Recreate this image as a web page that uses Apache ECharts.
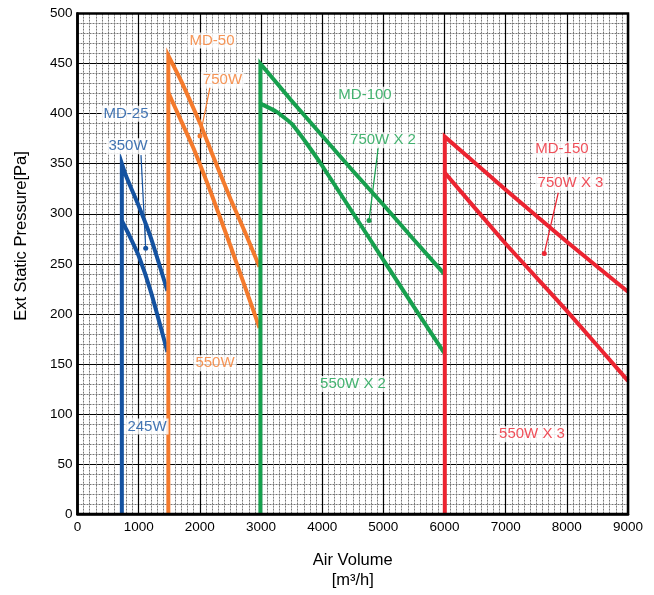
<!DOCTYPE html>
<html>
<head>
<meta charset="utf-8">
<script src="https://cdn.jsdelivr.net/npm/echarts@6/dist/echarts.min.js"></script>
<style>
html,body{margin:0;padding:0;background:#fff;}
#chart{width:654px;height:595px;}
</style>
</head>
<body>
<div id="chart"></div>
<script>
// ---- data ----
const xTicks = [0,1000,2000,3000,4000,5000,6000,7000,8000,9000];
const yTicks = [0,50,100,150,200,250,300,350,400,450,500];

const md25Upper = [[725,350],[780,340],[860,328],[1000,308],[1200,276],[1470,223]];
const md25Lower = [[725,293],[850,278],[1000,258],[1200,222],[1470,162]];
const md50Upper = [[1485,458],[1700,432],[2000,391],[2200,360],[2500,315],[2750,280],[2975,247]];
const md50Lower = [[1485,421],[1700,392],[1900,365],[2200,318],[2500,268],[2750,225],[2975,186]];
const md100Upper = [[2990,450],[3500,413],[4000,378],[4500,343],[5000,309],[5500,274],[5995,240]];
const md100Lower = [[2990,410],[3250,402],[3500,390],[3750,370],[4000,348],[4500,301],[5000,254],[5500,207],[5995,161]];
const md150Upper = [[6005,377],[7000,324],[8000,272],[9000,222]];
const md150Lower = [[6005,341],[7000,270],[8000,203],[9000,133]];

const labelTexts = ['MD-25','350W','245W','MD-50','750W','550W','MD-100','750W X 2','550W X 2','MD-150','750W X 3','550W X 3'];
const labelX =     [793, 826, 1136, 2199, 2370, 2248, 4700, 4994, 4504, 7920, 8060, 7430];
const labelY =     [400, 367.5, 87.5, 473, 434, 150.6, 419, 373.5, 130, 364.5, 331, 79.6];
const labelGroup = [0,0,0,1,1,1,2,2,2,3,3,3];

// leader lines: from point and dot point
const leaderStart = [[1038,358.6],[2166,426.3],[4918,367],[7860,321]];
const leaderEnd =   [[1115,265.5],[2003,377.6],[4766,293.2],[7631,260.3]];
const leaderGroup = [0,1,2,3];

const colors = ['#1452a0','#f47a2c','#17a04e','#ec2431'];
const curves = [[md25Upper,md25Lower],[md50Upper,md50Lower],[md100Upper,md100Lower],[md150Upper,md150Lower]];

// ---- chart ----
const chart = echarts.init(document.getElementById('chart'), null, {renderer:'canvas'});
const FONT = 'Liberation Sans, Arial, Helvetica, sans-serif';
const series = [];

curves.forEach((pair, i) => {
  const up = pair[0];
  const vert = [[up[0][0], 0], [up[0][0], up[0][1]]].concat(up.slice(1));
  series.push({
    type:'line', data: vert, showSymbol:false, smooth:0.15, z:5,
    lineStyle:{color:colors[i], width:4, join:'miter', cap:'butt'}, silent:true, animation:false
  });
  series.push({
    type:'line', data: pair[1], showSymbol:false, smooth:0.15, z:5,
    lineStyle:{color:colors[i], width:4, cap:'butt'}, silent:true, animation:false
  });
});

leaderStart.forEach((s, i) => {
  const c = colors[leaderGroup[i]];
  series.push({
    type:'line', z:6, animation:false, silent:true,
    data:[{value:s, symbol:'none'}, {value:leaderEnd[i], symbol:'circle', symbolSize:5}],
    showSymbol:true, showAllSymbol:true,
    itemStyle:{color:c}, lineStyle:{color:c, width:1.2}
  });
});

series.push({
  type:'scatter', z:10, animation:false, silent:true, symbolSize:0,
  data: labelTexts.map((t,i)=>({
    value:[labelX[i], labelY[i]],
    label:{show:true, position:'inside', formatter:t, color:colors[labelGroup[i]],
      fontSize:15, fontFamily:FONT, backgroundColor:'#fff', padding:[1,2,0,2]}
  }))
});

chart.setOption({
  animation:false,
  backgroundColor:'#fff',
  grid:{left:77.5, right:26, top:13.6, bottom:74.3, show:true, borderColor:'#000', borderWidth:2.5, z:20},
  graphic:[{
    type:'text', x:21, y:236, rotation:Math.PI/2, z:30,
    style:{text:'Ext Static Pressure[Pa]', fill:'#000', fontSize:16.5, fontFamily:FONT,
      textAlign:'center', textVerticalAlign:'middle'}
  }],
  xAxis:{
    type:'value', min:0, max:9000, interval:1000,
    name:'Air Volume\n[m³/h]', nameLocation:'middle', nameGap:36,
    nameTextStyle:{color:'#000', fontSize:16.5, fontFamily:FONT, lineHeight:20},
    axisLine:{show:true, lineStyle:{color:'#000', width:2.5}},
    axisTick:{show:false},
    axisLabel:{color:'#000', fontSize:13.5, fontFamily:FONT, margin:6,
      formatter:(v)=> xTicks.includes(v) ? String(v) : ''},
    splitLine:{show:true, lineStyle:{color:'#000', width:1.2}},
    minorTick:{show:false, splitNumber:10},
    minorSplitLine:{show:true, lineStyle:{color:'#777', width:1, type:[2,1]}}
  },
  yAxis:{
    type:'value', min:0, max:500, interval:50,
    axisLine:{show:true, lineStyle:{color:'#000', width:2.5}},
    axisTick:{show:false},
    axisLabel:{color:'#000', fontSize:13.5, fontFamily:FONT, margin:5,
      formatter:(v)=> yTicks.includes(v) ? String(v) : ''},
    splitLine:{show:true, lineStyle:{color:'#000', width:1.2}},
    minorTick:{show:false, splitNumber:5},
    minorSplitLine:{show:true, lineStyle:{color:'#777', width:1, type:[2,1]}}
  },
  series: series
});
</script>
</body>
</html>
